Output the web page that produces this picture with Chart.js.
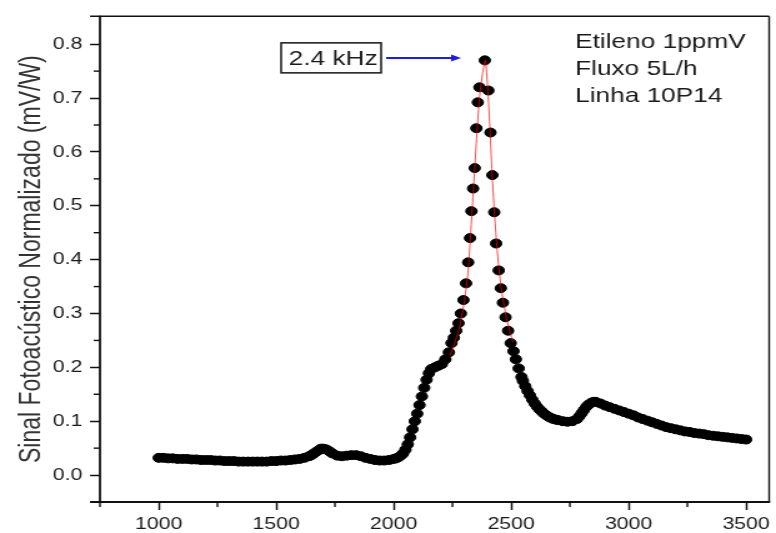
<!DOCTYPE html>
<html><head><meta charset="utf-8">
<script src="https://cdn.jsdelivr.net/npm/chart.js@4.4.1/dist/chart.umd.min.js"></script>
<style>
html,body{margin:0;padding:0;background:#fff;overflow:hidden;}
#wrap{width:776px;height:533px;overflow:hidden;background:#fff;}
#c{display:block;transform:scaleX(1.2496);transform-origin:0 0;}
</style></head><body>
<div id="wrap"><canvas id="c" width="621" height="533" style="width:621px;height:533px"></canvas></div>
<script>
// Frequency (Hz) of each measured point
const freq = [
 1000,1020,1040,1060,1080,1100,1120,1140,1160,1180,1200,1220,1240,1260,1280,1300,1320,1340,1360,1380,
 1400,1420,1440,1460,1480,1500,1520,1540,1560,1580,1600,1620,1640,1650,1660,1670,1680,1690,1700,1710,1720,1730,1740,1760,1780,
 1800,1820,1840,1860,1880,1900,1920,1940,1960,1980,2000,2010,2020,2030,2040,2050,2060,2070,2080,2090,2100,2110,2120,2130,2140,2150,
 2160,2175,2190,2205,2220,2235,2246,2256,2266,2276,2286,2297,2308,2317,2325,2331,2338,2345,2352,2358,2365,2388,
 2403,2412,2420,2428,2436,2447,2456,2465,2476,2487,2498,2510,2520,2532,2544,
 2550,2560,2570,2580,2590,2600,2610,2620,2630,2640,2650,2660,2670,2680,2690,2700,2720,2740,2760,2780,2790,2800,2810,2820,2830,2840,2850,2860,2880,2900,2920,2940,
 2960,2980,3000,3020,3040,3060,3080,3100,3120,3140,3160,3180,3200,3220,3240,3260,3280,3300,3320,3340,
 3360,3380,3400,3420,3440,3460,3480,3500
];
// Normalised photoacoustic signal (mV/W)
const signal = [
 0.032,0.032,0.031,0.031,0.030,0.030,0.030,0.029,0.029,0.028,0.028,0.028,0.027,0.027,0.026,0.026,0.026,0.025,0.025,0.025,
 0.025,0.025,0.025,0.025,0.026,0.026,0.027,0.027,0.028,0.029,0.030,0.032,0.035,0.037,0.040,0.043,0.046,0.049,0.049,0.048,0.046,0.043,0.040,0.036,0.035,
 0.036,0.037,0.037,0.035,0.032,0.030,0.028,0.027,0.027,0.028,0.030,0.031,0.033,0.036,0.040,0.047,0.057,0.070,0.085,0.100,0.114,0.130,0.146,0.162,0.177,0.189,
 0.197,0.200,0.203,0.206,0.215,0.228,0.245,0.255,0.268,0.282,0.300,0.325,0.356,0.395,0.440,0.490,0.532,0.570,0.644,0.692,0.720,0.770,
 0.714,0.636,0.557,0.488,0.430,0.380,0.347,0.320,0.293,0.268,0.245,0.230,0.215,0.198,0.182,
 0.175,0.165,0.156,0.148,0.140,0.133,0.127,0.122,0.118,0.114,0.111,0.108,0.106,0.104,0.103,0.102,0.100,0.099,0.100,0.104,0.109,0.115,0.121,0.127,0.131,0.134,0.136,0.136,0.133,0.129,0.126,0.123,
 0.120,0.117,0.114,0.111,0.107,0.104,0.101,0.098,0.095,0.092,0.089,0.087,0.085,0.083,0.081,0.080,0.078,0.077,0.076,0.074,
 0.073,0.072,0.071,0.070,0.069,0.068,0.067,0.066
];
// Red fitted curve around the 2.4 kHz resonance
const fitFreq   = [2240,2260,2280,2300,2315,2325,2335,2345,2355,2365,2378,2390,2400,2410,2420,2430,2440,2450,2460,2470,2480,2495,2508];
const fitSignal = [0.222,0.245,0.275,0.320,0.370,0.430,0.500,0.570,0.640,0.700,0.745,0.770,0.720,0.640,0.550,0.480,0.420,0.375,0.340,0.315,0.292,0.265,0.247];
// Axis ticks
const xTicks = [1000,1500,2000,2500,3000,3500];
const xMinor = [750,1250,1750,2250,2750,3250];
const yTicks = [0.0,0.1,0.2,0.3,0.4,0.5,0.6,0.7,0.8];
const yMinor = [0.05,0.15,0.25,0.35,0.45,0.55,0.65,0.75];
// Annotations
const peakLabel = '2.4 kHz';
const peakFreq = 2388, peakValue = 0.77;
const infoLines = ['Etileno 1ppmV','Fluxo 5L/h','Linha 10P14'];
const yTitle = 'Sinal Fotoacústico Normalizado (mV/W)';

const FONT = '"Liberation Sans", Arial, sans-serif';

const framePlugin = {
  id: 'frame',
  afterDraw(chart) {
    const {ctx, chartArea: a, scales: {x, y}} = chart;
    const line = (x1, y1, x2, y2) => { ctx.beginPath(); ctx.moveTo(x1, y1); ctx.lineTo(x2, y2); ctx.stroke(); };
    ctx.save();
    ctx.strokeStyle = '#111';
    ctx.lineWidth = 1.8;
    line(a.left, a.top - 0.5, a.left, a.bottom);
    line(a.left - 8, a.bottom, a.right + 0.8, a.bottom);
    ctx.lineWidth = 1.4;
    line(a.left - 8, a.top, a.right, a.top);
    line(a.right, a.top, a.right, a.bottom);
    ctx.lineWidth = 1.4;
    xMinor.forEach(v => { const px = x.getPixelForValue(v); line(px, a.bottom, px, a.bottom + 5); });
    yMinor.forEach(v => { const py = y.getPixelForValue(v); line(a.left, py, a.left - 5, py); });

    // peak annotation
    const px = x.getPixelForValue(peakFreq), py = y.getPixelForValue(peakValue);
    const bx = px - 163, by = py - 17.5, bw = 80, bh = 30;
    ctx.lineWidth = 1.6;
    ctx.strokeStyle = '#222';
    ctx.strokeRect(bx, by, bw, bh);
    ctx.fillStyle = '#1a1a1a';
    ctx.font = '21px ' + FONT;
    ctx.textBaseline = 'middle';
    ctx.textAlign = 'left';
    ctx.fillText(peakLabel, bx + 6, by + bh / 2 + 1);
    // arrow
    const ay = py - 2.4, ax1 = bx + bw + 4, ax2 = px - 19;
    ctx.strokeStyle = '#1c1ce6';
    ctx.fillStyle = '#1c1ce6';
    ctx.lineWidth = 2;
    line(ax1, ay, ax2 - 6, ay);
    ctx.beginPath();
    ctx.moveTo(ax2, ay); ctx.lineTo(ax2 - 8, ay - 3.5); ctx.lineTo(ax2 - 8, ay + 3.5); ctx.closePath(); ctx.fill();

    // info text
    ctx.fillStyle = '#1a1a1a';
    ctx.font = '21px ' + FONT;
    infoLines.forEach((t, i) => ctx.fillText(t, a.right - 155.3, a.top + 26 + i * 27));
    ctx.restore();
  }
};

new Chart(document.getElementById('c'), {
  type: 'scatter',
  data: {
    datasets: [
      { label: 'Ajuste', data: fitFreq.map((v, i) => ({x: v, y: fitSignal[i]})), showLine: true,
        borderColor: 'rgba(255,0,0,0.7)', borderWidth: 1, pointRadius: 0, fill: false, tension: 0.2, order: 0 },
      { label: 'Sinal', data: freq.map((v, i) => ({x: v, y: signal[i]})), showLine: false,
        pointRadius: 4.5, pointBackgroundColor: '#000', pointBorderColor: '#000', pointBorderWidth: 1, order: 1 }
    ]
  },
  options: {
    responsive: false, animation: false, devicePixelRatio: 1,
    layout: {padding: {left: 0, right: 3, top: 16, bottom: 0}},
    plugins: {legend: {display: false}, tooltip: {enabled: false}},
    scales: {
      x: {
        type: 'linear', min: 750, max: 3598,
        afterBuildTicks: s => { s.ticks = xTicks.map(v => ({value: v})); },
        afterFit: s => { s.height = 31; },
        grid: {drawOnChartArea: false, drawTicks: true, tickLength: 8, tickWidth: 1.5, tickColor: '#111'},
        border: {display: false},
        ticks: {padding: 4, color: '#1a1a1a', font: {family: FONT, size: 17}, autoSkip: false, maxRotation: 0, callback: v => String(v)}
      },
      y: {
        type: 'linear', min: -0.05, max: 0.852,
        afterBuildTicks: s => { s.ticks = yTicks.map(v => ({value: v})); },
        afterFit: s => { s.width = 80; },
        grid: {drawOnChartArea: false, drawTicks: true, tickLength: 8, tickWidth: 1.5, tickColor: '#111'},
        border: {display: false},
        ticks: {padding: 6, color: '#1a1a1a', font: {family: FONT, size: 17}, autoSkip: false, callback: v => v.toFixed(1)},
        title: {display: true, text: yTitle, color: '#333', font: {family: FONT, size: 23}, padding: {top: 12, bottom: 0}}
      }
    }
  },
  plugins: [framePlugin]
});
</script>
</body></html>
